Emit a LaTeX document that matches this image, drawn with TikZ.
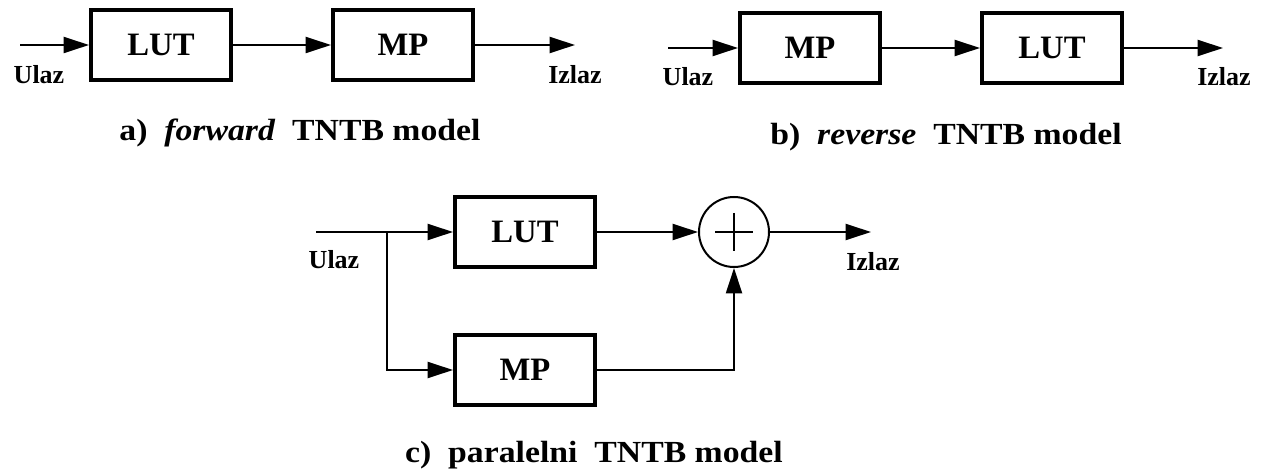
\documentclass[tikz,border=0pt]{standalone}
\usepackage{fontspec}
\setmainfont{Liberation Serif}
\newfontfamily\widefont[FakeStretch=1.1]{Liberation Serif}
\usetikzlibrary{arrows.meta}

\tikzset{
  blok/.style={draw,line width=3pt,minimum width=105pt,minimum height=52.5pt,
    inner sep=0pt,font=\fontsize{24.5}{25}\selectfont\bfseries},
  sabirac/.style={draw,circle,line width=1.5pt,minimum size=52.5pt,inner sep=0pt},
  tok/.style={line width=1.5pt,-{Triangle[length=19pt,width=12pt]}},
  lbl/.style={font=\fontsize{19.5}{20}\selectfont\bfseries},
  natpis/.style={font=\widefont\fontsize{23}{25}\selectfont\bfseries}
}

\begin{document}
\begin{tikzpicture}[x=0.75pt,y=-0.75pt]
  \useasboundingbox (0,0) rectangle (1262,473);

  % a) forward
  \coordinate (ain) at (20,45);
  \coordinate (aout) at (575,45);
  \node[blok] (alut) at (161,45) {LUT};
  \node[blok] (amp) at (403,45) {MP};
  \draw[tok] (ain) -- (alut);
  \draw[tok] (alut) -- (amp);
  \draw[tok] (amp) -- (aout);
  \node[lbl] (aulaz) at (39,75) {Ulaz};
  \node[lbl] (aizlaz) at (575,75) {Izlaz};
  \node[natpis] (acap) at (300,133) {a)\ \ \textit{forward}\ \ TNTB model};

  % b) reverse
  \coordinate (bin) at (668,48);
  \coordinate (bout) at (1223,48);
  \node[blok] (bmp) at (810,48) {MP};
  \node[blok] (blut) at (1052,48) {LUT};
  \draw[tok] (bin) -- (bmp);
  \draw[tok] (bmp) -- (blut);
  \draw[tok] (blut) -- (bout);
  \node[lbl] (bulaz) at (688,77) {Ulaz};
  \node[lbl] (bizlaz) at (1224,77) {Izlaz};
  \node[natpis] (bcap) at (946,137) {b)\ \ \textit{reverse}\ \ TNTB model};

  % c) paralelni
  \coordinate (cin) at (316,232);
  \coordinate (cj) at (387,232);
  \coordinate (cout) at (871,232);
  \node[blok] (clut) at (525,232) {LUT};
  \node[blok] (cmp) at (525,370) {MP};
  \node[sabirac] (csum) at (734,232) {};
  \draw[line width=1.5pt] (csum.center) ++(-19,0) -- ++(38,0);
  \draw[line width=1.5pt] (csum.center) ++(0,-19) -- ++(0,38);
  \draw[line width=1.5pt] (cin) -- (cj);
  \draw[tok] (cj) -- (clut);
  \draw[tok] (cj) |- (cmp);
  \draw[tok] (clut) -- (csum);
  \draw[tok] (cmp) -| (csum);
  \draw[tok] (csum) -- (cout);
  \node[lbl] (culaz) at (334,260) {Ulaz};
  \node[lbl] (cizlaz) at (873,262) {Izlaz};
  \node[natpis] (ccap) at (594,455) {c)\ \ paralelni\ \ TNTB model};
\end{tikzpicture}
\end{document}
